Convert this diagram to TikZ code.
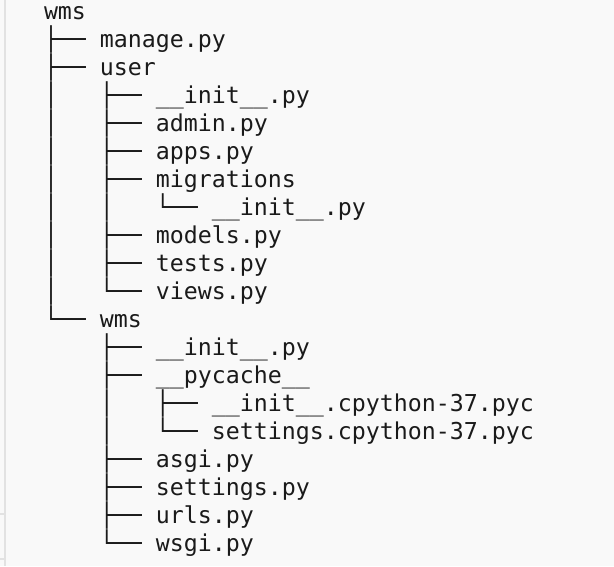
\documentclass[tikz,border=0pt]{standalone}
\usepackage{fontspec}
\newfontfamily\treefont{DejaVu Sans Mono}
\definecolor{bg}{HTML}{F9F9F9}
\definecolor{edge}{HTML}{E2E2E2}
\definecolor{ink}{HTML}{1A1A1A}
\begin{document}
\begin{tikzpicture}[x=1pt,y=-1pt,
  row/.style={anchor=base west, inner sep=0pt, outer sep=0pt,
    font=\treefont\fontsize{23.25pt}{28pt}\selectfont, text=ink}]
\useasboundingbox (0,0) rectangle (614,566);
\fill[bg] (0,0) rectangle (614,566);
\fill[edge] (4,0) rectangle (6,566);
\fill[edge] (0,513) rectangle (4,515);
\fill[edge] (0,558) rectangle (4,560);
\node[row] (r0)  at (44,19.5)  {wms};
\node[row] (r1)  at (44,47.5)  {├──~manage.py};
\node[row] (r2)  at (44,75.5)  {├──~user};
\node[row] (r3)  at (44,103.5) {│~~~├──~\_\_init\_\_.py};
\node[row] (r4)  at (44,131.5) {│~~~├──~admin.py};
\node[row] (r5)  at (44,159.5) {│~~~├──~apps.py};
\node[row] (r6)  at (44,187.5) {│~~~├──~migrations};
\node[row] (r7)  at (44,215.5) {│~~~│~~~└──~\_\_init\_\_.py};
\node[row] (r8)  at (44,243.5) {│~~~├──~models.py};
\node[row] (r9)  at (44,271.5) {│~~~├──~tests.py};
\node[row] (r10) at (44,299.5) {│~~~└──~views.py};
\node[row] (r11) at (44,327.5) {└──~wms};
\node[row] (r12) at (44,355.5) {~~~~├──~\_\_init\_\_.py};
\node[row] (r13) at (44,383.5) {~~~~├──~\_\_pycache\_\_};
\node[row] (r14) at (44,411.5) {~~~~│~~~├──~\_\_init\_\_.cpython-37.pyc};
\node[row] (r15) at (44,439.5) {~~~~│~~~└──~settings.cpython-37.pyc};
\node[row] (r16) at (44,467.5) {~~~~├──~asgi.py};
\node[row] (r17) at (44,495.5) {~~~~├──~settings.py};
\node[row] (r18) at (44,523.5) {~~~~├──~urls.py};
\node[row] (r19) at (44,551.5) {~~~~└──~wsgi.py};
\end{tikzpicture}
\end{document}
